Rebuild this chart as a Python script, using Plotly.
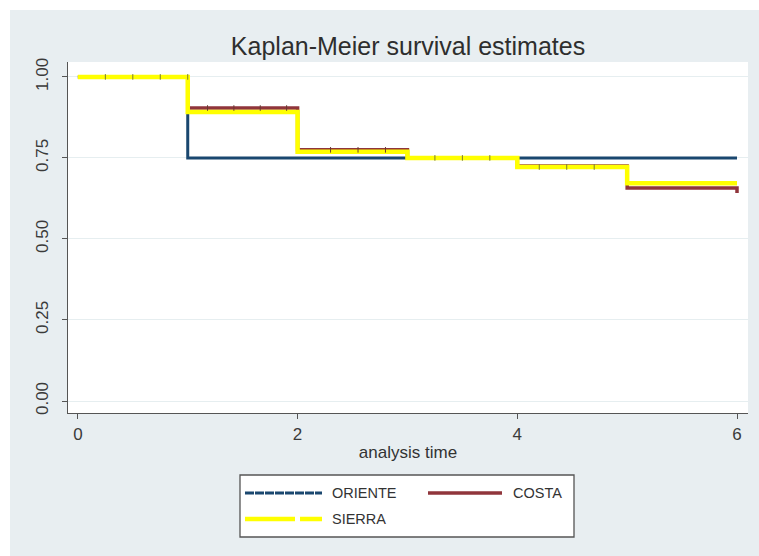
import plotly.graph_objects as go

# Kaplan-Meier step estimates by region
times_oriente = [0, 1, 6]
surv_oriente = [1.0, 0.75, 0.75]

times_costa = [0, 1, 2, 3, 4, 5, 6]
surv_costa = [1.0, 0.904, 0.775, 0.75, 0.725, 0.657, 0.642]

times_sierra = [0, 1, 2, 3, 4, 5, 6]
surv_sierra = [1.0, 0.892, 0.769, 0.75, 0.722, 0.672, 0.672]

# censoring marks (time, survival at that time)
cens_sierra_t = [0.25, 0.5, 0.75, 1.0, 3.25, 3.5, 3.75, 4.2, 4.45, 4.7]
cens_sierra_s = [1.0, 1.0, 1.0, 1.0, 0.75, 0.75, 0.75, 0.722, 0.722, 0.722]
cens_costa_t = [1.18, 1.42, 1.66, 1.9, 2.3, 2.55, 2.8]
cens_costa_s = [0.904, 0.904, 0.904, 0.904, 0.775, 0.775, 0.775]

y_ticks = [0.0, 0.25, 0.5, 0.75, 1.0]
y_tick_text = ["0.00", "0.25", "0.50", "0.75", "1.00"]
x_ticks = [0, 2, 4, 6]

FONT = "Liberation Sans, Arial, sans-serif"
BG = "#e8eef1"

series = [
    dict(name="ORIENTE", t=times_oriente, s=surv_oriente,
         line=dict(color="#1a476f", width=3),
         key=dict(color="#1a476f", width=3, dash="9px,1px")),
    dict(name="COSTA", t=times_costa, s=surv_costa,
         line=dict(color="#90353b", width=3.5),
         key=dict(color="#90353b", width=3.5)),
    dict(name="SIERRA", t=times_sierra, s=surv_sierra,
         line=dict(color="#ffff00", width=4.5),
         key=dict(color="#ffff00", width=4.5, dash="50px,5px")),
]

fig = go.Figure()
for sr in series:
    fig.add_trace(go.Scatter(x=sr["t"], y=sr["s"], mode="lines", line_shape="hv",
                             line=sr["line"], name=sr["name"], showlegend=False,
                             hoverinfo="skip"))

for ct, cs, col in [(cens_costa_t, cens_costa_s, "#6a3a30"),
                    (cens_sierra_t, cens_sierra_s, "#7a7a30")]:
    fig.add_trace(go.Scatter(x=ct, y=cs, mode="markers", showlegend=False,
                             marker=dict(symbol="line-ns", size=4,
                                         line=dict(color=col, width=1)),
                             hoverinfo="skip"))

# plot-area size in pixels, used to place items in paper units
L, R, T, B = 68, 11, 62, 143
W, H = 759, 556
pw, ph = W - L - R, H - T - B

def px_x(x):
    return (x - L) / pw

def px_y(y):
    return (H - B - y) / ph

shapes = [
    # white frame strips around the graph region
    dict(type="rect", xref="paper", yref="paper", x0=px_x(0), x1=px_x(W),
         y0=px_y(10), y1=px_y(0), fillcolor="white", line_width=0, layer="below"),
    dict(type="rect", xref="paper", yref="paper", x0=px_x(0), x1=px_x(10),
         y0=px_y(H), y1=px_y(0), fillcolor="white", line_width=0, layer="below"),
    # legend box
    dict(type="rect", xref="paper", yref="paper", x0=px_x(240), x1=px_x(574),
         y0=px_y(537), y1=px_y(475), fillcolor="white",
         line=dict(color="#555555", width=1.3)),
]

annotations = []
legend_slots = [(245, 322, 493, 330), (428, 502, 493, 511), (245, 322, 519, 330)]
for sr, (x0, x1, yy, xt) in zip(series, legend_slots):
    shapes.append(dict(type="line", xref="paper", yref="paper",
                       x0=px_x(x0), x1=px_x(x1), y0=px_y(yy), y1=px_y(yy),
                       line=sr["key"]))
    annotations.append(dict(xref="paper", yref="paper", x=px_x(xt), y=px_y(yy),
                            text=sr["name"], showarrow=False, xanchor="left",
                            yanchor="middle",
                            font=dict(family=FONT, size=14.5, color="#333333")))

fig.update_layout(
    width=W, height=H,
    margin=dict(l=L, r=R, t=T, b=B),
    paper_bgcolor=BG, plot_bgcolor="white",
    title=dict(text="Kaplan-Meier survival estimates", x=0.5, xref="paper",
               y=1 - 46 / H, yanchor="middle",
               font=dict(family=FONT, size=25, color="#2e2e2e")),
    shapes=shapes, annotations=annotations,
    xaxis=dict(range=[-0.09, 6.1], tickvals=x_ticks, showgrid=False, zeroline=False,
               showline=True, linecolor="#555555", linewidth=1.3,
               ticks="outside", ticklen=5, tickcolor="#555555",
               tickfont=dict(family=FONT, size=17, color="#3a3a3a"),
               title=dict(text="analysis time", standoff=3,
                          font=dict(family=FONT, size=17, color="#333333"))),
    yaxis=dict(range=[-0.037, 1.046], tickvals=y_ticks, ticktext=y_tick_text,
               tickangle=-90, showgrid=True, gridcolor="#e6eef0", gridwidth=1.2,
               zeroline=False, showline=True, linecolor="#555555", linewidth=1.3,
               ticks="outside", ticklen=5, tickcolor="#555555", ticklabelstandoff=7,
               tickfont=dict(family=FONT, size=17, color="#3a3a3a")),
)

fig.write_html("out.html")
